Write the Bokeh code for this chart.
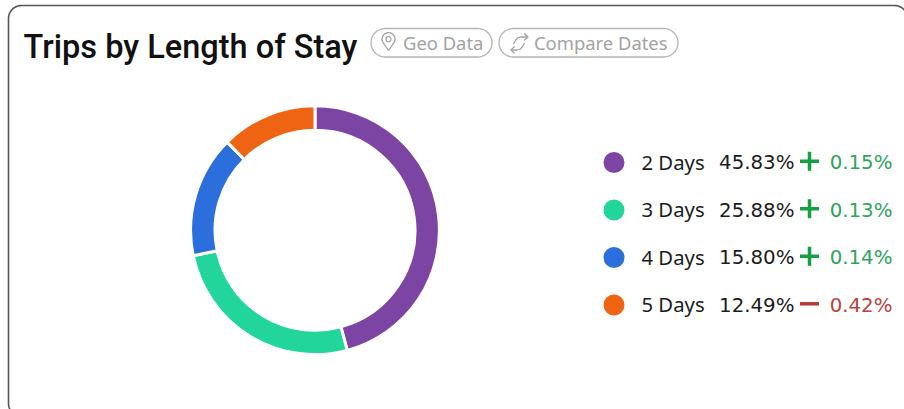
import numpy as np
from bokeh.plotting import figure
from bokeh.models import Range1d
from bokeh.core.properties import value
from bokeh.embed import file_html
from bokeh.resources import INLINE

labels = ["2 Days", "3 Days", "4 Days", "5 Days"]
shares = [45.83, 25.88, 15.80, 12.49]
share_labels = ["45.83%", "25.88%", "15.80%", "12.49%"]
deltas = ["0.15%", "0.13%", "0.14%", "0.42%"]
signs = [1, 1, 1, -1]
colors = ["#7c45a4", "#22d69b", "#2a6fdb", "#ee6413"]
title = "Trips by Length of Stay"
pills = ["Geo Data", "Compare Dates"]

W, H = 904, 409
FONT = "Noto Sans"
NUM = "DejaVu Sans"
GREY = "#a3a3a3"
def Y(y): return H - np.asarray(y, dtype=float)

p = figure(width=W, height=H, x_range=Range1d(0, W), y_range=Range1d(0, H),
           output_backend="svg", toolbar_location=None, min_border=0)
p.axis.visible = False
p.grid.visible = False
p.outline_line_color = None
p.background_fill_color = "white"
p.border_fill_color = "white"

def rrect(x0, y0, x1, y1, r, n=12):
    xs, ys = [], []
    for cx, cy, a0 in [(x1-r, y0+r, -90), (x1-r, y1-r, 0), (x0+r, y1-r, 90), (x0+r, y0+r, 180)]:
        t = np.radians(np.linspace(a0, a0+90, n))
        xs += list(cx + r*np.cos(t)); ys += list(cy + r*np.sin(t))
    xs.append(xs[0]); ys.append(ys[0])
    return np.array(xs), np.array(ys)

bx, by = rrect(8, 5, 907, 416, 13)
p.line(bx, Y(by), line_color="#55555c", line_width=1.6)

p.text([23], Y([46]), text=[title], text_font=value("Roboto Medium"), text_font_size="32.5px",
       text_color="#111111", text_baseline="middle")
for (x0, x1), tx, s in zip([(370.5, 491.5), (498.5, 677.5)], [402.5, 533.5], pills):
    px, py = rrect(x0, 28, x1, 56.5, 14.25)
    p.line(px, Y(py), line_color="#b4b4b4", line_width=1.3)
    p.text([tx], Y([41.5]), text=[s], text_font=value(FONT), text_font_size="18.4px",
           text_color=GREY, text_baseline="middle")

t = np.radians(np.linspace(-215, 35, 30))
pinx = [388] + list(388 + 6.5*np.cos(t)) + [388]
piny = [50] + list(38.7 + 6.5*np.sin(t)) + [50]
p.line(pinx, Y(piny), line_color=GREY, line_width=1.3)
p.scatter([388], Y([38.7]), marker="circle", size=5, fill_color="white", line_color=GREY, line_width=1.2)
swap_x = [[527, 520, 517, 515, 513], [523.5, 527.5, 523.5], [510.5, 517, 520, 522, 524], [514, 510.5, 514]]
swap_y = [[36.5, 36.5, 37.5, 40, 43.5], [33, 36.5, 40], [49.5, 49.5, 48.5, 46, 42.5], [46, 49.5, 53]]
p.multi_line(swap_x, [list(Y(v)) for v in swap_y], line_color=GREY, line_width=1.3)

cx, cy = 314.5, 229.7
frac = np.array(shares) / sum(shares) * 2*np.pi
ends = np.pi/2 - np.cumsum(frac)
starts = ends + frac
p.annular_wedge(x=[cx]*4, y=list(Y([cy]*4)), inner_radius=100.0, outer_radius=124.4,
                start_angle=starts, end_angle=ends, direction="clock",
                fill_color=colors, line_color="white", line_width=3)

rows = 162 + 47.5*np.arange(4)
ys = Y(rows)
p.scatter([613.5]*4, ys, marker="circle", size=21, fill_color=colors, line_color=None)
p.text([641]*4, ys + 1, text=labels, text_color="#1c1c1c", text_font=value(FONT),
       text_font_size="20.3px", text_baseline="middle")
common = dict(text_font=value(NUM), text_font_size="19.8px", text_baseline="middle")
p.text([794]*4, ys, text=share_labels, text_color="#1c1c1c", text_align="right", **common)
delta_cols = ["#2ea45c" if s > 0 else "#b8443c" for s in signs]
p.text([892]*4, ys, text=deltas, text_color=delta_cols, text_align="right", **common)
sign_cols = ["#16a045" if s > 0 else "#b83c34" for s in signs]
p.segment([799.5]*4, ys + 1.2, [818.5]*4, ys + 1.2, line_color=sign_cols, line_width=3.5)
ups = [i for i, s in enumerate(signs) if s > 0]
p.segment([809]*len(ups), ys[ups] + 1.2 - 9.5, [809]*len(ups), ys[ups] + 1.2 + 9.5,
          line_color="#16a045", line_width=3.5)

open("out.html", "w").write(file_html(p, INLINE))
